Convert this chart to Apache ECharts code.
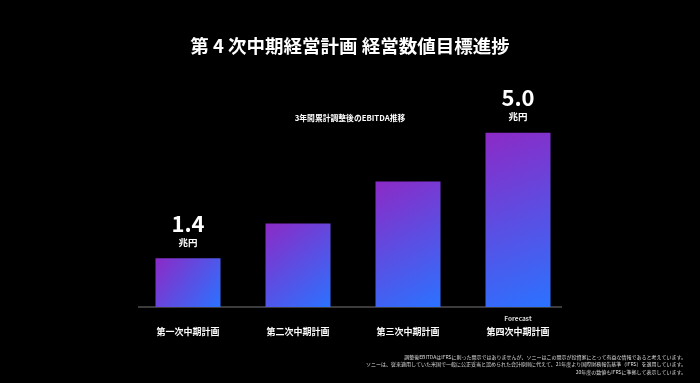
<!DOCTYPE html>
<html><head><meta charset="utf-8">
<script src="https://cdn.jsdelivr.net/npm/echarts@6/dist/echarts.min.js"></script>
<style>html,body{margin:0;padding:0;background:#000;}#c{width:700px;height:383px;}</style>
</head><body><div id="c"></div>
<script>
const categories = ['第一次中期計画','第二次中期計画','第三次中期計画','第四次中期計画'];
const values = [1.4, 2.4, 3.6, 5.0];
const labeledIdx = [0, 3];
const forecastIdx = 3;
const titleText = '第 4 次中期経営計画 経営数値目標進捗';
const subtitleText = '3年間累計調整後のEBITDA推移';
const unitText = '兆円';
const footnotes = [
  '調整後EBITDAはIFRSに則った開示ではありませんが、ソニーはこの開示が投資家にとって有益な情報であると考えています。',
  'ソニーは、従来適用していた米国で一般に公正妥当と認められた会計原則に代えて、21年度より国際財務報告基準（IFRS）を適用しています。',
  '20年度の数値もIFRSに準拠して表示しています。'
];
const FONT = '"Noto Sans CJK JP", "Noto Sans", sans-serif';
const chart = echarts.init(document.getElementById('c'), null, {renderer:'canvas'});
const grad = new echarts.graphic.LinearGradient(0,0,1,1,[
  {offset:0,color:'#8C2AC6'},{offset:1,color:'#2B72FF'}
]);
chart.setOption({
  backgroundColor:'#000',
  animation:false,
  title:[
    {text:titleText,left:'center',top:32,textStyle:{color:'#fff',fontSize:18.5,fontWeight:'bold',fontFamily:FONT}},
    {text:subtitleText,left:'center',top:109,textStyle:{color:'#fff',fontSize:7.8,fontWeight:'bold',fontFamily:FONT}}
  ],
  grid:{left:133,right:127,top:98,bottom:76},
  xAxis:{type:'category',data:categories,
    axisLine:{show:false},axisTick:{show:false},
    axisLabel:{margin:5,color:'#fff',interval:0,fontFamily:FONT,
      formatter:(v,i)=> i===forecastIdx ? '{f|Forecast}\n{c|'+v+'}' : '{f| }\n{c|'+v+'}',
      rich:{f:{fontSize:6.5,color:'#ddd',fontWeight:'bold',fontFamily:FONT,lineHeight:13},
            c:{fontSize:9,color:'#fff',fontWeight:'bold',fontFamily:FONT,lineHeight:14}}}
  },
  yAxis:{type:'value',min:0,max:6,show:false,splitLine:{show:false}},
  series:[{type:'bar',barWidth:65,
    data:values.map((v,i)=>({value:v,label:{show:labeledIdx.includes(i)}})),
    itemStyle:{color:grad},
    label:{position:'top',distance:9,fontFamily:FONT,
      formatter:p=>'{v|'+p.value.toFixed(1)+'}\n{u|'+unitText+'}',
      rich:{v:{fontSize:22,fontWeight:'bold',color:'#fff',fontFamily:FONT,lineHeight:24,align:'center'},
            u:{fontSize:9.5,fontWeight:'bold',color:'#fff',fontFamily:FONT,lineHeight:14,align:'center'}}}
  }],
  graphic:[
    {type:'line',shape:{x1:138,y1:307,x2:562,y2:307},style:{stroke:'#777',lineWidth:1}},
    {type:'text',right:14,top:353,style:{text:footnotes.join('\n'),fill:'#ddd',font:'5px '+FONT,textAlign:'right',lineHeight:7.5}}
  ]
});
</script></body></html>
